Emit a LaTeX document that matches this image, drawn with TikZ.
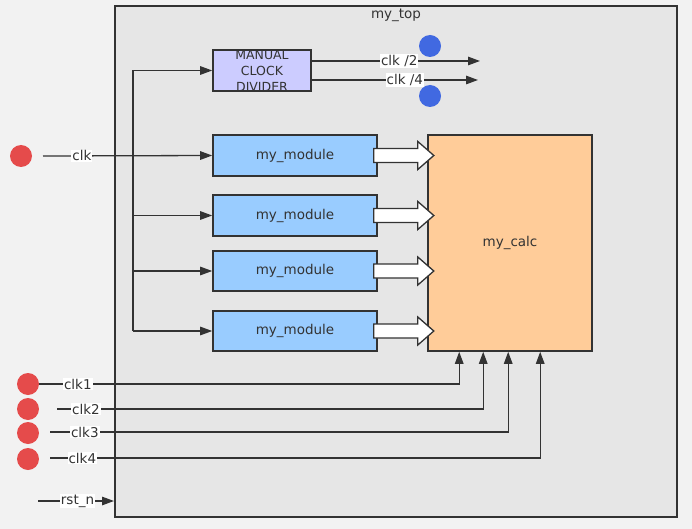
\documentclass[tikz,border=0pt]{standalone}
\usepackage{fontspec}
\setmainfont{DejaVu Sans}
\usetikzlibrary{arrows.meta}
\usetikzlibrary{positioning}

\definecolor{bggray}{HTML}{F2F2F2}
\definecolor{topgray}{HTML}{E6E6E6}
\definecolor{edge}{HTML}{333333}
\definecolor{divfill}{HTML}{CCCCFF}
\definecolor{modfill}{HTML}{99CCFF}
\definecolor{calcfill}{HTML}{FFCC99}
\definecolor{pinred}{HTML}{E54B4B}
\definecolor{pinblue}{HTML}{4169E1}

\tikzset{
  block/.style={draw=edge, line width=1.6pt, minimum width=164pt, minimum height=41pt,
    inner sep=0pt, text=edge, font=\fontsize{13.5}{16}\selectfont},
  wire/.style={draw=edge, line width=1.3pt},
  sig/.style={-{Triangle[length=12pt,width=8.5pt]}},
  lbl/.style={fill=white, inner sep=1pt, text=edge, font=\fontsize{13.5}{16}\selectfont},
  reddot/.style={circle, fill=pinred, minimum size=22pt, inner sep=0pt},
  bluedot/.style={circle, fill=pinblue, minimum size=22pt, inner sep=0pt},
  bigarrow/.style={fill=white, draw=edge, line width=1.3pt, line join=miter},
}

\begin{document}
\begin{tikzpicture}[x=1pt, y=-1pt]
  % Background and top level module
  \useasboundingbox[fill=bggray] (0,0) rectangle (692,529);
  \node[draw=edge, fill=topgray, line width=2pt, minimum width=562pt, minimum height=511pt] (top) at (396,261.5) {};
  \node[text=edge, font=\fontsize{13.5}{16}\selectfont] (toplabel) at ([yshift=-10pt]top.north) {my\_top};

  % Clock divider
  \node[block, fill=divfill, minimum width=98pt] (divider) at (262,70.5) {};
  \node[align=center, text=edge, font=\fontsize{12.5}{16}\selectfont] (divtext) at (divider.center) {MANUAL\\CLOCK\\DIVIDER};

  % Sub modules and calc
  \node[block, fill=modfill] (m1) at (295,155.5) {my\_module};
  \node[block, fill=modfill] (m2) at (295,215.5) {my\_module};
  \node[block, fill=modfill, minimum height=40pt] (m3) at (295,271) {my\_module};
  \node[block, fill=modfill, minimum height=40pt] (m4) at (295,331) {my\_module};
  \node[block, fill=calcfill, minimum height=216pt] (calc) at (510,243) {my\_calc};

  % Pins
  \node[reddot] (dclk) at (21,156) {};
  \node[reddot] (dclk1) at (28,384) {};
  \node[reddot] (dclk2) at (28,409) {};
  \node[reddot] (dclk3) at (28,433) {};
  \node[reddot] (dclk4) at (28,459) {};
  \node[bluedot] (d2) at (430,46) {};
  \node[bluedot] (d4) at (430,96) {};

  % Free ends
  \coordinate (clkin) at (43,156);
  \coordinate (busbot) at (133,331);
  \coordinate (out2) at (480,61);
  \coordinate (out4) at (478,80);
  \coordinate (in2) at (57,409);
  \coordinate (in3) at (50,432);
  \coordinate (in4) at (50,458);
  \coordinate (rstin) at (38,501);

  % Clock bus
  \draw[wire, sig] (clkin) -- node[lbl, pos=0.23] {clk} (m1.west);
  \draw[wire, sig] (busbot) |- (divider.west);
  \foreach \m in {m2,m3,m4}
    \draw[wire, sig] (busbot |- \m.west) -- (\m.west);

  % Divider outputs
  \draw[wire, sig] (divider.east |- out2) -- node[lbl, pos=0.52] {clk /2} (out2);
  \draw[wire, sig] (divider.east |- out4) -- node[lbl, pos=0.56] {clk /4} (out4);

  % Block arrows into calc
  \foreach \m in {m1,m2,m3,m4}
    \draw[bigarrow] ([shift={(-4pt,7pt)}]\m.east) -- ++(44pt,0pt) -- ++(0pt,7pt)
      -- ++(16pt,-14pt) -- ++(-16pt,-14pt) -- ++(0pt,7pt) -- ++(-44pt,0pt) -- cycle;

  % Clock inputs to calc
  \draw[wire, sig] (dclk1.east) -| node[lbl, pos=0.046] {clk1} ([xshift=32pt]calc.south west);
  \draw[wire, sig] (in2) -| node[lbl, pos=0.034] {clk2} ([xshift=56pt]calc.south west);
  \draw[wire, sig] (in3) -| node[lbl, pos=0.038] {clk3} ([xshift=81pt]calc.south west);
  \draw[wire, sig] (in4) -| node[lbl, pos=0.033] {clk4} ([xshift=113pt]calc.south west);

  % Reset
  \draw[wire, sig] (rstin) -- node[lbl, pos=0.52] {rst\_n} (rstin -| top.west);
\end{tikzpicture}
\end{document}
